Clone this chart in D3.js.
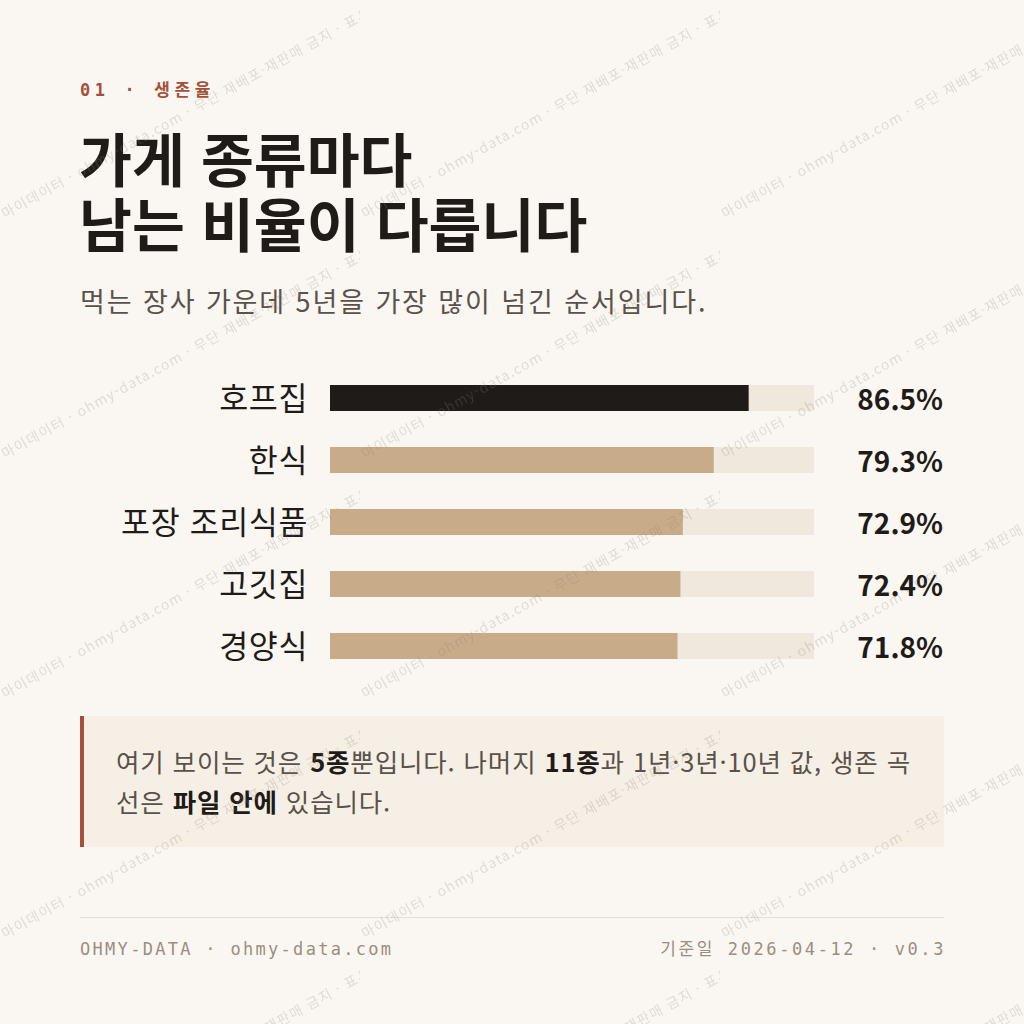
<!DOCTYPE html>
<html lang="ko">
<head>
<meta charset="utf-8">
<title>가게 종류마다 남는 비율이 다릅니다</title>
<script src="https://cdn.jsdelivr.net/npm/d3@7"></script>
<style>
  html, body { margin: 0; padding: 0; background: #faf7f2; }
  svg { display: block; }
  .kr { font-family: "Noto Sans CJK KR", "Noto Sans", sans-serif; }
  .mono { font-family: "DejaVu Sans Mono", "Noto Sans CJK KR", monospace; }
</style>
</head>
<body>
<div id="chart"></div>
<script>
// 5년 생존율 (%)
const categories = ['호프집', '한식', '포장 조리식품', '고깃집', '경양식'];
const survival5y = [86.5, 79.3, 72.9, 72.4, 71.8];
const maxValue = 100;

const eyebrow = '01 · 생존율';
const titleLines = ['가게 종류마다', '남는 비율이 다릅니다'];
const subtitle = '먹는 장사 가운데 5년을 가장 많이 넘긴 순서입니다.';
const noteLines = [
    [['여기 보이는 것은 ', false], ['5종', true], ['뿐입니다. 나머지 ', false], ['11종', true], ['과 1년·3년·10년 값, 생존 곡', false]],
    [['선은 ', false], ['파일 안에', true], [' 있습니다.', false]]
];
const footerLeft = 'OHMY-DATA · ohmy-data.com';
const footerRight = '기준일 2026-04-12 · v0.3';
const watermarkText = '· 마이데이터 · ohmy-data.com · 무단 재배포·재판매 금지 · 표시 필수';

document.addEventListener('DOMContentLoaded', function() {
    const W = 1024, H = 1024;
    const ink = '#1f1b18';
    const rust = '#a5503a';

    const svg = d3.select('#chart')
        .append('svg')
        .attr('width', W)
        .attr('height', H);

    svg.append('rect')
        .attr('width', W)
        .attr('height', H)
        .attr('fill', '#faf7f2');

    // header
    svg.append('text')
        .attr('class', 'mono')
        .attr('x', 80)
        .attr('y', 96)
        .attr('font-size', 17)
        .attr('font-weight', 700)
        .attr('letter-spacing', 4.6)
        .attr('fill', rust)
        .text(eyebrow);

    svg.append('g')
        .selectAll('text')
        .data(titleLines)
        .enter().append('text')
        .attr('class', 'kr')
        .attr('x', 79)
        .attr('y', (d, i) => 182 + i * 65)
        .attr('font-size', 57.5)
        .attr('font-weight', 700)
        .attr('fill', ink)
        .text(d => d);

    svg.append('text')
        .attr('class', 'kr')
        .attr('x', 80)
        .attr('y', 312)
        .attr('font-size', 27)
        .attr('font-weight', 400)
        .attr('letter-spacing', 1.9)
        .attr('fill', '#5a524a')
        .text(subtitle);

    // bars
    const x = d3.scaleLinear().domain([0, maxValue]).range([330, 814]);
    const y = d3.scalePoint().domain(categories).range([398, 646]);
    const barH = 26;

    const rows = svg.append('g')
        .selectAll('g')
        .data(categories.map((c, i) => ({ name: c, value: survival5y[i], rank: i })))
        .enter().append('g')
        .attr('transform', d => `translate(0,${y(d.name)})`);

    rows.append('rect')
        .attr('x', x(0))
        .attr('y', -barH / 2)
        .attr('width', x(maxValue) - x(0))
        .attr('height', barH)
        .attr('fill', '#f0e8dc');

    rows.append('rect')
        .attr('x', x(0))
        .attr('y', -barH / 2)
        .attr('width', d => x(d.value) - x(0))
        .attr('height', barH)
        .attr('fill', d => d.rank === 0 ? ink : '#c8ab88');

    rows.append('text')
        .attr('class', 'kr')
        .attr('x', 308)
        .attr('y', 12)
        .attr('text-anchor', 'end')
        .attr('font-size', 31.5)
        .attr('letter-spacing', 0.6)
        .attr('fill', ink)
        .text(d => d.name);

    rows.append('text')
        .attr('class', 'kr')
        .attr('x', 943)
        .attr('y', 12)
        .attr('text-anchor', 'end')
        .attr('font-size', 28)
        .attr('font-weight', 700)
        .attr('fill', ink)
        .text(d => d3.format('.1f')(d.value) + '%');

    // note box
    svg.append('rect')
        .attr('x', 80)
        .attr('y', 716)
        .attr('width', 864)
        .attr('height', 131)
        .attr('fill', '#f6efe5');
    svg.append('rect')
        .attr('x', 80)
        .attr('y', 716)
        .attr('width', 4)
        .attr('height', 131)
        .attr('fill', rust);

    const note = svg.append('g')
        .selectAll('text')
        .data(noteLines)
        .enter().append('text')
        .attr('class', 'kr')
        .attr('x', 116)
        .attr('y', (d, i) => 772 + i * 40)
        .attr('font-size', 25.5)
        .attr('letter-spacing', 0.85)
        .attr('fill', '#5a524a');
    note.selectAll('tspan')
        .data(d => d)
        .enter().append('tspan')
        .attr('font-weight', d => d[1] ? 700 : 400)
        .attr('fill', d => d[1] ? ink : null)
        .text(d => d[0]);

    // footer
    svg.append('line')
        .attr('x1', 80).attr('x2', 944)
        .attr('y1', 917.5).attr('y2', 917.5)
        .attr('stroke', '#e6dfd4');

    svg.append('text')
        .attr('class', 'mono')
        .attr('x', 80)
        .attr('y', 955)
        .attr('font-size', 17)
        .attr('letter-spacing', 2.3)
        .attr('fill', '#9a8e80')
        .text(footerLeft);

    svg.append('text')
        .attr('class', 'mono')
        .attr('x', 946)
        .attr('y', 955)
        .attr('text-anchor', 'end')
        .attr('font-size', 17)
        .attr('letter-spacing', 2.6)
        .attr('fill', '#9a8e80')
        .text(footerRight);

    // watermark tiles
    const pattern = svg.append('defs')
        .append('pattern')
        .attr('id', 'wm')
        .attr('patternUnits', 'userSpaceOnUse')
        .attr('width', 360)
        .attr('height', 240);
    pattern.append('text')
        .attr('class', 'kr')
        .attr('transform', 'translate(-4,224) rotate(-29)')
        .attr('font-size', 14)
        .attr('letter-spacing', 1.2)
        .attr('fill', '#8a7f72')
        .text(watermarkText);

    svg.append('rect')
        .attr('width', W)
        .attr('height', H)
        .attr('fill', 'url(#wm)')
        .attr('opacity', 0.24)
        .style('pointer-events', 'none');
});
</script>
</body>
</html>
